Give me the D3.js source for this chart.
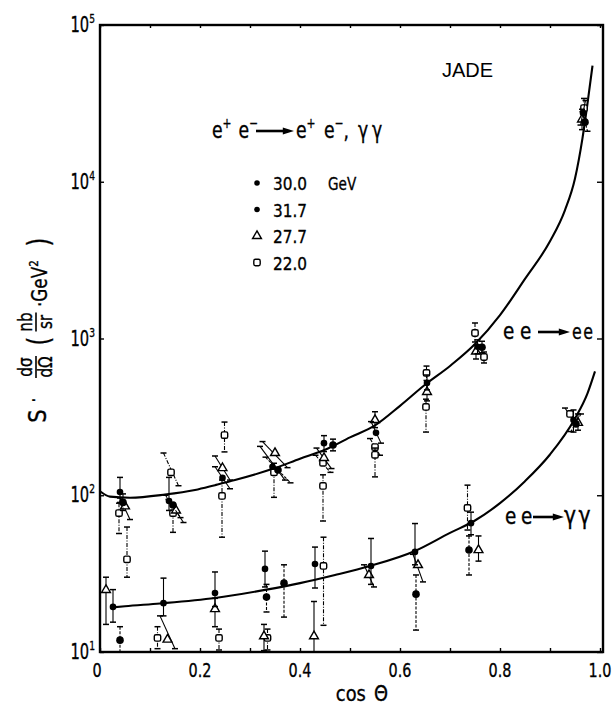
<!DOCTYPE html>
<html>
<head>
<meta charset="utf-8">
<script src="https://cdn.jsdelivr.net/npm/d3@7"></script>
<style>
  html, body { margin: 0; padding: 0; background: #fff; }
  svg { display: block; }
</style>
</head>
<body>
<svg id="chart" width="615" height="713"></svg>
<script>
// ---- data -------------------------------------------------------------
// Beam energies (legend) and their marker styles
const energies = ["30.0", "31.7", "27.7", "22.0"];
const energyUnit = "GeV";

// Each point: [cos θ, s·dσ/dΩ, lower end of error bar, upper end,
//              horizontal lean of the bar (cos θ shift of top end vs. bottom end)]
// e+e- → e+e-
const eeData300 = [
  [0.040, 105, 90, 130, 0], [0.138, 92, 80, 130, 0], [0.245, 129, 110, 152, -0.03],
  [0.345, 152, 125, 205, -0.05], [0.448, 215, 190, 240, 0], [0.552, 250, 215, 295, -0.02],
  [0.654, 520, 470, 585, 0], [0.755, 885, 800, 980, 0], [0.966, 27500, 23000, 33000, 0.01]
];
const eeData317 = [
  [0.046, 90, 80, 102, 0], [0.146, 86.7, 72, 100, -0.03], [0.356, 145, 120, 175, -0.05],
  [0.466, 209, 192, 228, 0], [0.764, 880, 810, 960, 0], [0.970, 24000, 21000, 28000, -0.01]
];
const eeData277 = [
  [0.050, 85, 70, 96, -0.02], [0.152, 80, 67, 94, -0.03], [0.245, 149, 125, 178, -0.03],
  [0.350, 186, 150, 220, -0.05], [0.448, 173, 148, 200, -0.03], [0.550, 302, 270, 341, 0],
  [0.654, 456, 400, 520, 0], [0.752, 826, 740, 905, 0], [0.964, 25000, 21500, 29000, 0]
];
const eeData220 = [
  [0.038, 77, 57, 89, 0], [0.142, 140, 115, 186, -0.03], [0.146, 77, 58, 88, 0],
  [0.249, 242, 189, 293, 0], [0.244, 99, 54, 125, 0], [0.348, 140, 97, 160, 0],
  [0.446, 161, 140, 180, -0.03], [0.446, 114.6, 68.5, 135, 0], [0.550, 203, 180, 230, -0.02],
  [0.550, 181, 131, 200, 0], [0.653, 603, 540, 667, 0], [0.652, 366, 253, 410, 0],
  [0.750, 1084, 950, 1256, 0], [0.768, 762, 698, 820, 0], [0.968, 29500, 25000, 34000, 0]
];
// e+e- → γγ
const ggData300 = [
  [0.026, 19.4, 15.5, 25, 0], [0.127, 20.5, 17, 29.6, 0], [0.230, 23.8, 19.5, 32.4, 0],
  [0.330, 33.9, 26, 44, 0], [0.430, 36.4, 25.6, 46.7, 0], [0.542, 35.4, 27, 53, 0],
  [0.630, 43.5, 36, 66, 0], [0.742, 66.4, 56, 78, 0], [0.947, 302, 253, 350, 0]
];
const ggData317 = [
  [0.040, 11.9, 10, 14.5, 0], [0.333, 22.4, 18, 27, 0], [0.368, 27.5, 16.7, 36, 0],
  [0.632, 23.4, 13.8, 31, 0], [0.738, 44.7, 31, 55, 0], [0.952, 285, 255, 330, 0.02]
];
const ggData277 = [
  [0.012, 24.9, 15, 30, 0], [0.135, 12, 10.5, 17, -0.03], [0.230, 18.8, 14.5, 22, 0],
  [0.328, 12.6, 10.2, 15, 0], [0.428, 12.6, 10, 21, 0], [0.538, 31, 26, 36, -0.02],
  [0.636, 35.9, 28, 42, -0.02], [0.757, 44.7, 38, 55, 0], [0.956, 290, 260, 330, 0]
];
const ggData220 = [
  [0.054, 39, 30, 62.7, 0], [0.115, 12.3, 10.5, 14.5, 0], [0.238, 12.3, 10.3, 14, 0],
  [0.335, 12.3, 10.3, 14, 0], [0.447, 35.4, 14.8, 54, 0], [0.735, 83, 60, 116, 0],
  [0.940, 330, 290, 360, -0.02]
];

// QED expectation curves
const eeCurveCos = [0, 0.02, 0.06, 0.13, 0.19, 0.23, 0.27, 0.35, 0.40, 0.45, 0.50, 0.55, 0.60,
                    0.65, 0.70, 0.75, 0.80, 0.85, 0.90, 0.93, 0.95, 0.965, 0.975, 0.985];
const eeCurveVal = [106, 98, 96.5, 101, 108, 116, 125, 149, 171, 195, 234, 279, 372,
                    507, 668, 922, 1410, 2400, 4170, 6600, 10500, 19000, 31600, 55000];
const ggCurveCos = [0.02, 0.05, 0.12, 0.23, 0.33, 0.40, 0.47, 0.54, 0.63, 0.70, 0.75, 0.80,
                    0.85, 0.90, 0.95, 0.975, 0.99];
const ggCurveVal = [19.2, 19.6, 20.4, 22.1, 24.9, 27.5, 31.0, 35.4, 44.1, 57.5, 69, 89,
                    123, 182, 309, 447, 617];

// Axis ticks
const xTickValues = [0, 0.2, 0.4, 0.6, 0.8, 1.0];
const xTickLabels = ["0", "0.2", "0.4", "0.6", "0.8", "1.0"];
const xMinorTicks = [0.1, 0.3, 0.5, 0.7, 0.9];
const yTickValues = [10, 100, 1000, 10000, 100000];
const yTickExponents = ["1", "2", "3", "4", "5"];

// ---- drawing ----------------------------------------------------------
const SANS = '"DejaVu Sans",sans-serif';
const PLAIN = '"Liberation Sans","Arial",sans-serif';

const svg = d3.select("#chart");
const x = d3.scaleLinear().domain([0, 1]).range([100, 600]);
const y = d3.scaleLog().domain([10, 1e5]).range([652, 25]);
const xRight = x(1.006);

// text squeezed horizontally, like condensed lettering
function ctext(parent, px, py, parts, size, opts = {}) {
  const g = parent.append("g")
    .attr("transform", `translate(${px},${py}) scale(${opts.sx || 0.75},1)`);
  const t = g.append("text").attr("x", 0).attr("y", 0)
    .attr("font-family", opts.family || SANS).attr("font-size", size)
    .attr("text-anchor", opts.anchor || "start")
    .attr("fill", "#000").attr("stroke", "#000").attr("stroke-width", 0.35);
  if (opts.spacing) t.attr("letter-spacing", opts.spacing);
  let shift = 0;
  (typeof parts === "string" ? [{ t: parts }] : parts).forEach(p => {
    const ts = t.append("tspan").text(p.t);
    const target = p.sup ? -size * 0.42 : 0;
    if (target !== shift) { ts.attr("dy", target - shift); shift = target; }
    if (p.sup) ts.attr("font-size", size * 0.62);
    if (p.dx) ts.attr("dx", p.dx);
    if (p.ls) ts.attr("letter-spacing", p.ls);
  });
  return t;
}

// axes with inward ticks
const axisStyle = g => {
  g.select(".domain").remove();
  g.selectAll(".tick line").attr("stroke", "#000").attr("stroke-width", 1.4);
};
svg.append("g").attr("transform", `translate(0,${y(10)})`)
  .call(d3.axisBottom(x).tickValues(xTickValues.concat(xMinorTicks)).tickSize(-4).tickFormat(""))
  .call(axisStyle);
svg.append("g").attr("transform", `translate(0,${y(1e5)})`)
  .call(d3.axisTop(x).tickValues(xTickValues.concat(xMinorTicks)).tickSize(-3).tickFormat(""))
  .call(axisStyle);
svg.append("g").attr("transform", `translate(${x(0)},0)`)
  .call(d3.axisLeft(y).tickValues(yTickValues).tickSize(-4).tickFormat(""))
  .call(axisStyle);
svg.append("g").attr("transform", `translate(${xRight},0)`)
  .call(d3.axisRight(y).tickValues(yTickValues).tickSize(-6).tickFormat(""))
  .call(axisStyle);

// frame
svg.append("rect")
  .attr("x", x(0)).attr("y", y(1e5))
  .attr("width", xRight - x(0)).attr("height", y(10) - y(1e5))
  .attr("fill", "none").attr("stroke", "#000").attr("stroke-width", 2.4);

// tick labels
xTickValues.forEach((v, i) => {
  ctext(svg, x(v) - (i === 0 ? 3 : 0), y(10) + 25, xTickLabels[i], 20, { anchor: "middle", sx: 0.72 });
});
yTickValues.forEach((v, i) => {
  ctext(svg, x(0) - 5, y(v) + 7, [{ t: "10" }, { t: yTickExponents[i], sup: true }], 21,
        { anchor: "end", sx: 0.7 });
});

// theory curves
const line = d3.line().x(d => x(d[0])).y(d => y(d[1])).curve(d3.curveMonotoneX);
svg.append("path")
  .datum(eeCurveCos.map((c, i) => [c, eeCurveVal[i]]))
  .attr("d", line).attr("fill", "none").attr("stroke", "#000").attr("stroke-width", 2.1);
svg.append("path")
  .datum(ggCurveCos.map((c, i) => [c, ggCurveVal[i]]))
  .attr("d", line).attr("fill", "none").attr("stroke", "#000").attr("stroke-width", 2.1);

// data points with error bars
const markerOf = {
  "30.0": { shape: "dot", r: 3.3 },
  "31.7": { shape: "dot", r: 3.8 },
  "27.7": { shape: "tri" },
  "22.0": { shape: "sq" }
};
const barDash = { "30.0": null, "31.7": "3,1.5", "27.7": null, "22.0": "4,1.5,1,1.5" };

function drawMarker(g, shape, cx, cy, r) {
  if (shape === "dot") {
    g.append("circle").attr("cx", cx).attr("cy", cy).attr("r", r).attr("fill", "#000");
  } else if (shape === "tri") {
    g.append("path")
      .attr("d", d3.symbol(d3.symbolTriangle, 34)())
      .attr("transform", `translate(${cx},${cy})`)
      .attr("fill", "#fff").attr("stroke", "#000").attr("stroke-width", 1.4);
  } else {
    g.append("rect").attr("x", cx - 3.2).attr("y", cy - 3.2).attr("width", 6.4).attr("height", 6.4)
      .attr("rx", 1.6).attr("fill", "#fff").attr("stroke", "#000").attr("stroke-width", 1.4);
  }
}

function drawSeries(data, energy) {
  const g = svg.append("g");
  const m = markerOf[energy];
  data.forEach(([c, v, lo, hi, lean]) => {
    const cx = x(c), cy = y(v);
    const xt = x(c + lean / 2), xb = x(c - lean / 2);
    const yt = y(hi), yb = y(lo);
    g.append("line").attr("x1", xt).attr("y1", yt).attr("x2", xb).attr("y2", yb)
      .attr("stroke", "#000").attr("stroke-width", 1.1)
      .attr("stroke-dasharray", barDash[energy]);
    [[xt, yt], [xb, yb]].forEach(([ex, ey]) => {
      g.append("line").attr("x1", ex - 3).attr("x2", ex + 3).attr("y1", ey).attr("y2", ey)
        .attr("stroke", "#000").attr("stroke-width", 1.5);
    });
    drawMarker(g, m.shape, cx, cy, m.r);
  });
}
drawSeries(eeData220, "22.0"); drawSeries(ggData220, "22.0");
drawSeries(eeData277, "27.7"); drawSeries(ggData277, "27.7");
drawSeries(eeData317, "31.7"); drawSeries(ggData317, "31.7");
drawSeries(eeData300, "30.0"); drawSeries(ggData300, "30.0");

function arrow(x1, x2, yy, head) {
  svg.append("line").attr("x1", x1).attr("x2", x2 - head).attr("y1", yy).attr("y2", yy)
    .attr("stroke", "#000").attr("stroke-width", 2.6);
  svg.append("path")
    .attr("d", `M${x2},${yy} L${x2 - head * 1.6},${yy - head * 0.5} L${x2 - head * 1.6},${yy + head * 0.5} Z`)
    .attr("fill", "#000");
}

// experiment name and reaction
svg.append("text").attr("x", 442).attr("y", 77)
  .attr("font-family", PLAIN).attr("font-size", 20).text("JADE");
ctext(svg, 212, 138, [{ t: "e" }, { t: "+", sup: true }, { t: " e", dx: 2 }, { t: "−", sup: true }], 23);
arrow(256, 294, 131, 7);
ctext(svg, 296, 138, [{ t: "e" }, { t: "+", sup: true }, { t: " e", dx: 4 }, { t: "−", sup: true },
                      { t: "," }, { t: "γγ", dx: 12, ls: 5 }], 23);

// legend
energies.forEach((e, i) => {
  const ly = 183 + i * 26.5;
  const m = markerOf[e];
  drawMarker(svg, m.shape, 257, ly, m.shape === "dot" ? 2.8 : 0);
  ctext(svg, 273, ly + 7, e, 18, { sx: 0.85 });
});
ctext(svg, 328, 190, energyUnit, 17, { sx: 0.8 });

// curve labels
ctext(svg, 503, 339, [{ t: "ee", ls: 7 }], 23, { sx: 0.8 });
arrow(538, 570, 332, 7);
ctext(svg, 572, 339, [{ t: "ee", ls: 2 }], 22, { sx: 0.72 });
ctext(svg, 505, 524, [{ t: "ee", ls: 6 }], 23, { sx: 0.8 });
arrow(533, 564, 517, 7);
ctext(svg, 564, 524, [{ t: "γγ", ls: 3 }], 24, { sx: 0.85 });

// x axis title
ctext(svg, 362, 701, [{ t: "cos " }, { t: "Θ", dx: 3 }], 21, { anchor: "middle", sx: 0.85 });

// y axis title: S · dσ/dΩ ( nb/sr · GeV² ), read bottom to top
const yl = svg.append("g").attr("transform", "translate(32,330) rotate(-90)");
ctext(yl, -86, 14, "S", 25, { anchor: "middle", sx: 0.85 });
ctext(yl, -70, 9, "·", 22, { anchor: "middle" });
function fraction(cx, num, den, w) {
  ctext(yl, cx, 0, num, 19, { anchor: "middle", sx: 0.8 });
  yl.append("line").attr("x1", cx - w / 2).attr("x2", cx + w / 2).attr("y1", 4).attr("y2", 4)
    .attr("stroke", "#000").attr("stroke-width", 1.6);
  ctext(yl, cx, 20, den, 19, { anchor: "middle", sx: 0.8 });
}
fraction(-37, "dσ", "dΩ", 22);
ctext(yl, -11, 17, "(", 30, { anchor: "middle" });
fraction(8, "nb", "sr", 19);
ctext(yl, 23, 15, [{ t: "·GeV" }, { t: "2", sup: true }], 21, { sx: 0.8 });
ctext(yl, 88, 17, ")", 30, { anchor: "middle" });
</script>
</body>
</html>
